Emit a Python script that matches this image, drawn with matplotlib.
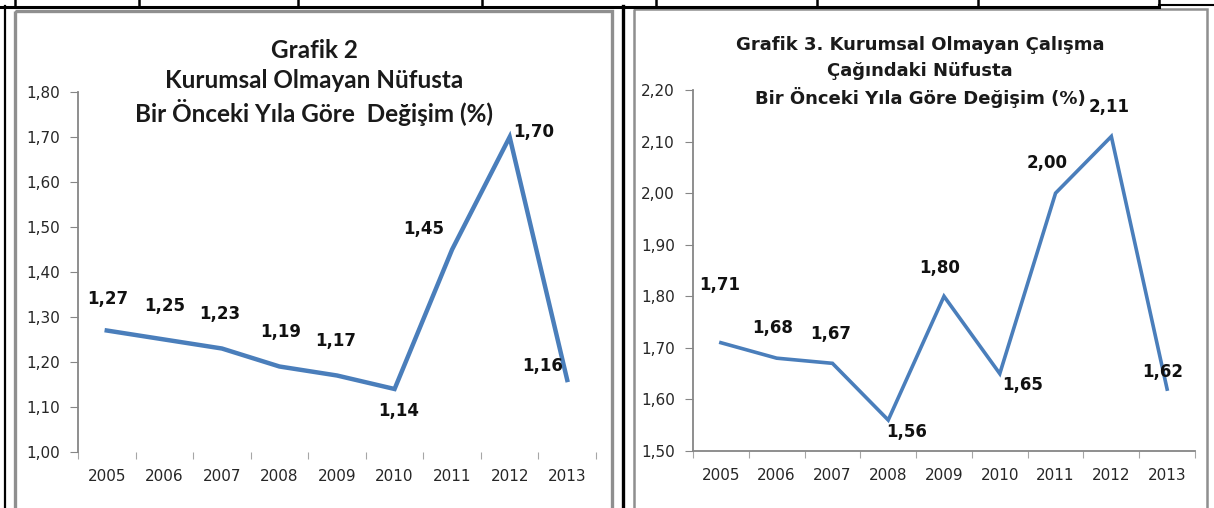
import numpy as np
import matplotlib
matplotlib.use("Agg")
import matplotlib.pyplot as plt

W, H = 1214, 508

years = ["2005", "2006", "2007", "2008", "2009", "2010", "2011", "2012", "2013"]
nufus = [1.27, 1.25, 1.23, 1.19, 1.17, 1.14, 1.45, 1.70, 1.16]
calisma_cagi = [1.71, 1.68, 1.67, 1.56, 1.80, 1.65, 2.00, 2.11, 1.62]

title_left = ["Grafik 2", "Kurumsal Olmayan Nüfusta", "Bir Önceki Yıla Göre  Değişim (%)"]
title_right = ["Grafik 3. Kurumsal Olmayan Çalışma", "Çağındaki Nüfusta",
               "Bir Önceki Yıla Göre Değişim (%)"]

# label offsets in pixels (dx, dy), picked by eye
off_left = [(1, 32), (0, 34), (-2, 35), (1, 35), (-1, 35), (4, -22), (-28, 21), (24, 5), (-25, 14)]
off_right = [(-1, 58), (-4, 30), (-2, 29), (18, -12), (-4, 28), (23, -11), (-8, 30), (-2, 29), (-4, 17)]

LINE = "#4a7ebb"
GRID = "#868686"


def px_axes(fig, x0, y0, x1, y1, **kw):
    return fig.add_axes([x0 / W, 1 - y1 / H, (x1 - x0) / W, (y1 - y0) / H], **kw)


def fmt(v):
    return f"{v:.2f}".replace(".", ",")


fig = plt.figure(figsize=(W / 100, H / 100), dpi=100)

# page decoration: table lines and chart frames
deco = px_axes(fig, 0, 0, W, H, zorder=0)
deco.set_xlim(0, W)
deco.set_ylim(H, 0)
deco.axis("off")
deco.plot([0, 1159], [6.5, 6.5], color="black", lw=2.2)
deco.plot([1159, W], [5, 5], color="black", lw=1.5)
for x in [15, 139, 298, 482, 656, 817, 978, 1159]:
    deco.plot([x, x], [0, 7], color="black", lw=1.8)
deco.plot([5, 5], [6, H], color="black", lw=1.6)
deco.plot([623, 623], [6, H], color="black", lw=2.4)
deco.add_patch(plt.Rectangle((15, 11), 597, 520, fill=False, ec="#8f8f8f", lw=2.4))
deco.add_patch(plt.Rectangle((634, 9), 573, 520, fill=False, ec="#8f8f8f", lw=1.8))

for i, t in enumerate(title_left):
    deco.text(314, [50, 81, 112][i], t, ha="center", va="center", fontsize=17.5,
              fontweight="bold", family="Lato", color="#1a1a1a")
for i, t in enumerate(title_right):
    deco.text(920, [45, 71, 98][i], t, ha="center", va="center", fontsize=13,
              fontweight="bold", family="DejaVu Sans", color="#1a1a1a")


def draw_chart(ax, values, ylim, offsets, lw, bottom_spine):
    x = np.arange(len(values))
    ax.plot(x, values, color=LINE, lw=lw, solid_joinstyle="miter", clip_on=False)
    ax.set_xlim(-0.5, len(values) - 0.5)
    ax.set_ylim(*ylim)
    ticks = np.arange(ylim[0], ylim[1] + 0.001, 0.1)
    ax.set_yticks(ticks, labels=[fmt(v) for v in ticks])
    ax.set_xticks(np.arange(-0.5, len(values)), labels=[])
    ax.set_xticks(x, labels=years, minor=True)
    ax.tick_params(axis="x", which="major", length=5, color="#a6a6a6", direction="out")
    ax.tick_params(axis="x", which="minor", length=0, pad=12, labelsize=11, labelcolor="#262626")
    ax.tick_params(axis="y", length=6, color=GRID, labelsize=11, labelcolor="#262626", pad=7)
    for s in ["top", "right"]:
        ax.spines[s].set_visible(False)
    ax.spines["left"].set_color(GRID)
    ax.spines["left"].set_linewidth(1.3)
    if bottom_spine:
        ax.spines["bottom"].set_color(GRID)
        ax.spines["bottom"].set_linewidth(1.3)
    else:
        ax.spines["bottom"].set_visible(False)
    ax.patch.set_alpha(0)
    for xi, v, (dx, dy) in zip(x, values, offsets):
        ax.annotate(fmt(v), (xi, v), xytext=(dx, dy), textcoords="offset pixels",
                    ha="center", va="center", fontsize=12, fontweight="bold",
                    color="#111111", annotation_clip=False)


ax1 = px_axes(fig, 78, 92, 596, 452)
draw_chart(ax1, nufus, (1.0, 1.8), off_left, 3.2, False)

ax2 = px_axes(fig, 693, 90, 1195, 451)
draw_chart(ax2, calisma_cagi, (1.5, 2.2), off_right, 2.6, True)

fig.savefig("out.png", dpi=100)
